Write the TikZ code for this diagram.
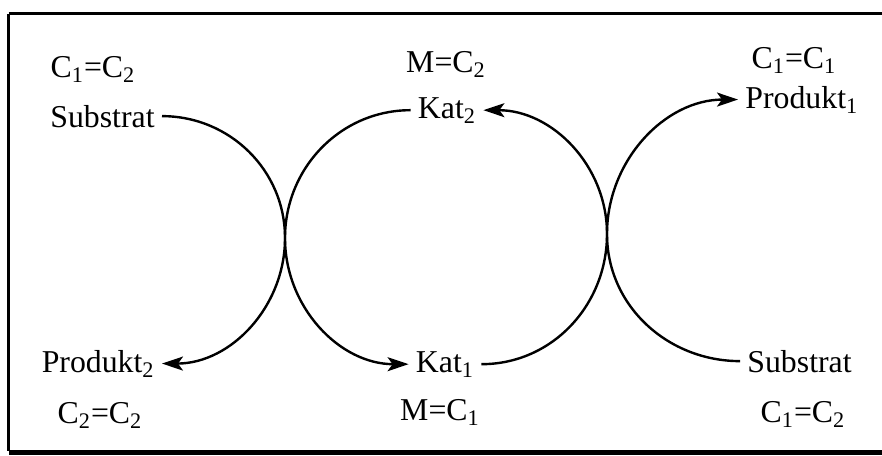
\documentclass[tikz,border=0pt]{standalone}
\usepackage{fontspec}
\setmainfont{Liberation Serif}
\usetikzlibrary{arrows.meta}
\tikzset{
  label text/.style={inner sep=3.5pt, font=\fontsize{15.9}{19}\selectfont},
  cycle arc/.style={line width=1.2pt},
  cycle arrow/.style={cycle arc, -{Stealth[length=10.5pt,width=7pt,inset=2.5pt]}}}

\begin{document}
\begin{tikzpicture}[x=0.5pt, y=-0.5pt]
        \useasboundingbox (0,0) rectangle (882,455);

        % frame, open on the right
        \draw[line width=1.3pt] (8.7,13.7) -- (882,13.7);
        \draw[line width=1.3pt] (8.7,13.7) -- (8.7,451);
        \draw[line width=2.5pt] (8.7,452) -- (882,452);

        \node[label text, anchor=base east](sub1) at (162,127) {Substrat};
        \node[label text, anchor=base east](prod2) at (162,372) {Produkt\textsubscript{2}};
        \node[label text, anchor=base](kat2) at (447,118) {Kat\textsubscript{2}};
        \node[label text, anchor=base](kat1) at (445,372) {Kat\textsubscript{1}};
        \node[label text, anchor=base west](prod1) at (738,108) {Produkt\textsubscript{1}};
        \node[label text, anchor=base west](sub2) at (740,372) {Substrat};

        \node[label text, anchor=base](ccl) at (93,77) {C\textsubscript{1}=C\textsubscript{2}};
        \node[label text, anchor=base](mc2) at (446,72) {M=C\textsubscript{2}};
        \node[label text, anchor=base](ccr) at (794,68) {C\textsubscript{1}=C\textsubscript{1}};
        \node[label text, anchor=base](ccbl) at (100,423) {C\textsubscript{2}=C\textsubscript{2}};
        \node[label text, anchor=base](mc1) at (440,420) {M=C\textsubscript{1}};
        \node[label text, anchor=base](ccbr) at (803,422) {C\textsubscript{1}=C\textsubscript{2}};

        % points where two circles touch
        \coordinate (tl) at (285,238);
        \coordinate (tr) at (607,234);

        \draw[cycle arrow] (sub1.east) to[out=0, in=90] (tl) to[out=-90, in=0] (prod2.east);
        \draw[cycle arrow] (kat2.west) to[out=180, in=90] (tl) to[out=-90, in=180] (kat1.west);
        \draw[cycle arrow] (kat1.east) to[out=0, in=-90] (tr) to[out=90, in=0] (kat2.east);
        \draw[cycle arrow] (sub2.west) to[out=180, in=-90] (tr) to[out=90, in=180] (prod1.west);
      \end{tikzpicture}
\end{document}
